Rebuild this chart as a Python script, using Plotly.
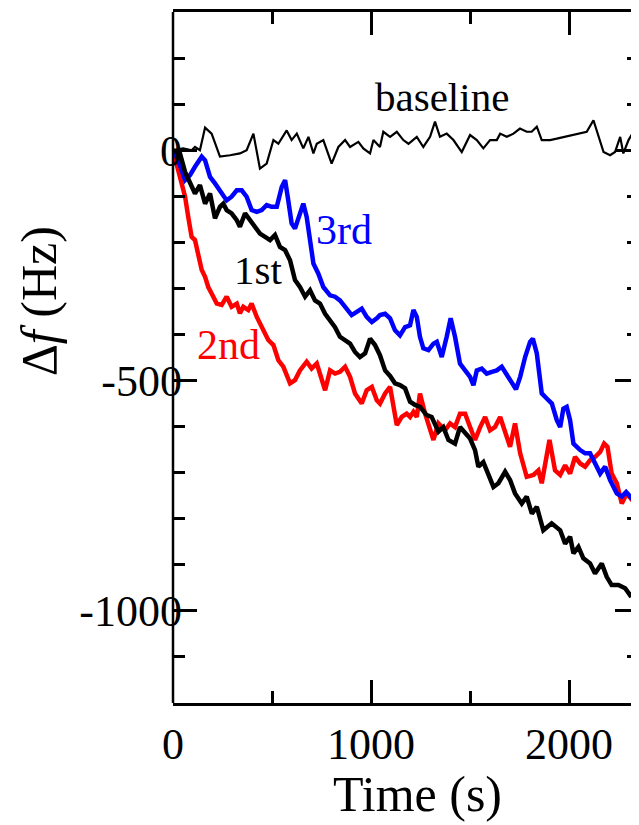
import plotly.graph_objects as go

# ---- data ----
base_t = [0, 52, 94, 111, 136, 162, 195, 237, 288, 338, 372, 406, 439, 473, 507, 532, 574, 599, 625, 658,
          684, 709, 726, 759, 801, 835, 869, 894, 936, 961, 995, 1012, 1045, 1062, 1096, 1130, 1163, 1189,
          1231, 1264, 1298, 1323, 1348, 1382, 1416, 1458, 1500, 1534, 1567, 1601, 1635, 1652, 1685, 1719,
          1752, 1786, 1811, 1837, 1862, 1904, 1938, 1980, 2022, 2056, 2089, 2123, 2148, 2174, 2207, 2232,
          2258, 2274, 2300, 2325, 2353]
base_v = [0, 4, 0, 7, 0, 49, 36, -14, -11, -7, 0, 36, -40, -29, 22, 14, 43, 22, 36, 4,
          29, -7, 14, 22, -29, 7, 22, 7, 18, 4, -7, 22, 7, 40, 29, 40, 22, 14,
          29, 7, 29, 62, 29, 36, 22, -4, 33, 22, 4, 22, 22, 36, 29, 36,
          47, 40, 40, 51, 22, 22, 25, 29, 33, 36, 40, 65, 29, -4, -11, -4,
          29, -7, 22, 40, 36]

first_t = [0, 35, 61, 86, 111, 136, 162, 187, 212, 237, 254, 271, 296, 322, 338, 364, 389, 414, 439, 465,
           490, 515, 540, 566, 591, 616, 641, 667, 692, 717, 742, 768, 793, 818, 843, 869, 894, 919, 944, 970,
           995, 1020, 1045, 1071, 1096, 1121, 1146, 1172, 1197, 1222, 1247, 1281, 1306, 1340, 1365, 1391,
           1424, 1449, 1475, 1500, 1525, 1542, 1567, 1593, 1618, 1643, 1677, 1702, 1727, 1761, 1786, 1812,
           1837, 1870, 1912, 1955, 1980, 2005, 2022, 2047, 2072, 2106, 2131, 2165, 2190, 2215, 2249, 2283,
           2308, 2333, 2353]
first_v = [0, -7, -47, -72, -94, -76, -116, -94, -148, -123, -116, -130, -137, -152, -166, -137, -152, -166, -181, -188,
           -195, -184, -210, -217, -239, -282, -297, -318, -304, -326, -333, -355, -369, -384, -405, -412, -420, -438, -449, -441,
           -409, -423, -445, -478, -490, -506, -510, -517, -546, -553, -557, -575, -579, -611, -601, -629,
           -637, -601, -615, -626, -651, -687, -677, -702, -731, -723, -698, -716, -745, -767, -752, -789,
           -774, -825, -810, -825, -854, -839, -875, -861, -886, -897, -919, -897, -926, -944, -944, -951,
           -966, -959, -962]

second_t = [0, 35, 61, 77, 94, 111, 128, 145, 162, 178, 195, 221, 246, 271, 296, 322, 338, 355, 380, 397,
            423, 456, 481, 507, 532, 557, 591, 616, 641, 675, 700, 726, 742, 768, 793, 818, 843, 869, 894, 919,
            953, 978, 1004, 1029, 1045, 1071, 1096, 1130, 1155, 1180, 1197, 1214, 1231, 1247, 1273, 1315, 1340,
            1374, 1399, 1424, 1449, 1475, 1500, 1525, 1551, 1576, 1601, 1626, 1652, 1677, 1702, 1727, 1753,
            1786, 1820, 1845, 1862, 1901, 1929, 1955, 1980, 2005, 2030, 2056, 2081, 2106, 2131, 2157, 2177,
            2194, 2215, 2241, 2266, 2291, 2317, 2342, 2353]
second_v = [0, -58, -101, -145, -188, -195, -224, -260, -275, -297, -311, -333, -336, -318, -340, -333, -354, -340, -347, -333,
            -362, -391, -412, -423, -456, -470, -506, -499, -478, -459, -474, -463, -485, -521, -478, -485, -481, -470, -492, -528,
            -550, -521, -514, -543, -550, -528, -514, -597, -579, -572, -579, -568, -579, -528, -572, -629, -593,
            -608, -593, -601, -572, -572, -601, -629, -601, -579, -608, -601, -579, -608, -644, -593, -658,
            -709, -705, -695, -723, -629, -695, -705, -684, -702, -666, -680, -687, -673, -666, -655, -637,
            -644, -702, -723, -767, -745, -759, -738, -731]

third_t = [0, 27, 61, 86, 111, 145, 162, 187, 212, 237, 271, 296, 322, 347, 372, 397, 423, 448, 473, 498,
           524, 549, 566, 582, 599, 616, 641, 658, 675, 692, 709, 734, 759, 793, 818, 843, 869, 902, 928, 953,
           978, 1004, 1029, 1045, 1071, 1096, 1121, 1146, 1172, 1197, 1214, 1231, 1247, 1264, 1290, 1315, 1332,
           1357, 1382, 1402, 1424, 1449, 1475, 1500, 1517, 1534, 1559, 1584, 1610, 1635, 1660, 1685, 1711,
           1732, 1753, 1778, 1803, 1817, 1837, 1862, 1887, 1913, 1938, 1955, 1971, 1988, 2005, 2022, 2056,
           2081, 2106, 2131, 2157, 2182, 2207, 2241, 2266, 2288, 2317, 2353]
third_v = [0, -22, -65, -54, -36, -14, -22, -58, -72, -87, -109, -101, -87, -87, -101, -130, -134, -130, -119, -123,
           -123, -80, -65, -109, -159, -170, -137, -116, -145, -195, -246, -268, -297, -315, -318, -326, -340, -358, -351, -344,
           -362, -373, -365, -358, -355, -365, -391, -402, -384, -380, -347, -362, -405, -430, -434, -420, -416,
           -449, -405, -365, -405, -463, -478, -492, -510, -478, -474, -485, -481, -478, -470, -488, -506,
           -519, -492, -449, -416, -409, -441, -528, -539, -550, -586, -601, -561, -557, -586, -637, -651,
           -658, -658, -680, -702, -687, -716, -745, -752, -742, -756, -767]

x_tickvals = [0, 1000, 2000]
x_ticktext = ["0", "1000", "2000"]
y_tickvals = [0, -500, -1000]
y_ticktext = ["0", "-500", "-1000"]

labels = ["baseline", "3rd", "1st", "2nd"]
label_t = [1359, 864, 429, 278]
label_v = [115, -174, -260, -423]
label_colors = ["black", "#0000ff", "black", "#ff0000"]
label_sizes = [41, 42, 41, 42]

FONT = "Liberation Serif, Times New Roman, serif"

fig = go.Figure()
fig.add_trace(go.Scatter(x=base_t, y=base_v, mode="lines", line=dict(color="black", width=2.2)))
fig.add_trace(go.Scatter(x=second_t, y=second_v, mode="lines", line=dict(color="#ff0000", width=4.5)))
fig.add_trace(go.Scatter(x=third_t, y=third_v, mode="lines", line=dict(color="#0000ff", width=4.5)))
fig.add_trace(go.Scatter(x=first_t, y=first_v, mode="lines", line=dict(color="black", width=4.5)))

for txt, tx, ty, col, sz in zip(labels, label_t, label_v, label_colors, label_sizes):
    fig.add_annotation(x=tx, y=ty, xref="x", yref="y", text=txt, showarrow=False,
                       font=dict(family=FONT, size=sz, color=col), xanchor="center", yanchor="middle")

# axis titles
fig.add_annotation(x=0, y=-328, xref="paper", yref="y", xshift=-134, text="Δ<i>f</i> (Hz)",
                   textangle=-90, showarrow=False, font=dict(family=FONT, size=50, color="black"),
                   xanchor="center", yanchor="middle")
fig.add_annotation(x=1237, y=0, xref="x", yref="paper", yshift=-91, text="Time (s)",
                   showarrow=False, font=dict(family=FONT, size=50, color="black"),
                   xanchor="center", yanchor="middle")

# left frame line
fig.add_shape(type="line", xref="paper", yref="paper", x0=0, x1=0, y0=0, y1=1,
              line=dict(color="black", width=2.5))

fig.update_xaxes(range=[0, 2353], showline=True, linecolor="black", linewidth=2.5, mirror="ticks",
                 ticks="inside", ticklen=23, tickwidth=2.5, tickcolor="black",
                 tickmode="array", tickvals=x_tickvals, ticktext=x_ticktext,
                 minor=dict(tickmode="linear", tick0=0, dtick=500, ticklen=12, tickwidth=2.5,
                            tickcolor="black", ticks="inside"),
                 showgrid=False, zeroline=False,
                 tickfont=dict(family=FONT, size=44, color="black"))
fig.update_yaxes(range=[-1200, 300], showline=False, mirror="ticks",
                 ticks="inside", ticklen=24, tickwidth=2.5, tickcolor="black",
                 tickmode="array", tickvals=y_tickvals, ticktext=y_ticktext,
                 ticklabelstandoff=-10,
                 minor=dict(tickmode="linear", tick0=0, dtick=100, ticklen=12, tickwidth=2.5,
                            tickcolor="black", ticks="inside"),
                 showgrid=False, zeroline=False,
                 tickfont=dict(family=FONT, size=44, color="black"))

# the page body adds an 8px offset, so the figure is sized to end at the window edge
fig.update_layout(width=631, height=817, margin=dict(l=165, r=0, t=4, b=122),
                  plot_bgcolor="white", paper_bgcolor="white", showlegend=False)

fig.write_html("out.html")
